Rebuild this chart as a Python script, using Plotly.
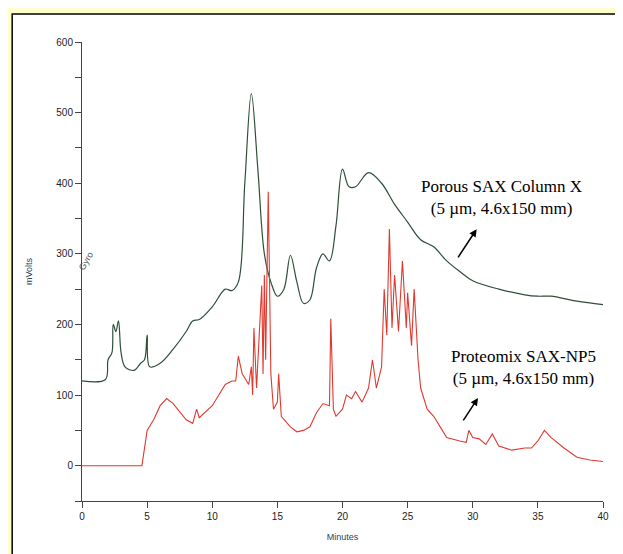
import plotly.graph_objects as go

# retention time (min) / signal (mV)
porous_t = [0, 1.8, 2.0, 2.3, 2.4, 2.6, 2.8, 3.0, 3.3, 4.0, 4.5, 4.8, 5.0, 5.2, 6.0, 7.0, 8.0, 8.5,
            9.0, 10.0, 11.0, 11.5, 12.0, 12.5, 13.0, 13.5, 14.0, 14.5, 15.0, 15.5, 16.0, 16.5, 17.0,
            17.5, 18.0, 18.5, 19.0, 19.5, 20.0, 20.5, 21.0, 22.0, 23.0, 24.0, 25.0, 26.0, 27.0, 28.0,
            29.0, 30.0, 32.0, 34.0, 35.0, 36.0, 38.0, 40.0]
porous_mv = [120, 122, 150, 160, 200, 190, 205, 160, 140, 135, 145, 150, 185, 140, 145, 165, 190, 205,
             207, 225, 250, 248, 260, 400, 527, 420, 300, 260, 240, 250, 298, 260, 230,
             235, 280, 300, 290, 340, 420, 395, 395, 415, 400, 370, 345, 320, 310, 290,
             275, 262, 250, 242, 240, 240, 233, 228]

np5_t = [0, 4.6, 5.0, 5.5, 6.0, 6.5, 7.0, 8.0, 8.5, 8.8, 9.0, 10.0, 11.0, 11.5, 11.8, 12.0, 12.3,
         12.8, 13.0, 13.1, 13.2, 13.4, 13.8, 13.9, 14.0, 14.1, 14.3, 14.5, 14.7, 15.0, 15.1, 15.3,
         16.0, 16.5, 17.0, 17.5, 18.0, 18.5, 19.0, 19.1, 19.3, 19.5, 20.0, 20.3, 20.7, 21.0, 21.5,
         22.0, 22.3, 22.6, 23.0, 23.2, 23.4, 23.6, 23.8, 24.0, 24.3, 24.6, 24.9, 25.0, 25.3, 25.5,
         25.8, 26.0, 26.5, 27.0, 27.5, 28.0, 29.0, 29.5, 29.7, 30.0, 30.5, 31.0, 31.5, 32.0, 33.0,
         34.0, 34.5, 35.0, 35.5, 36.0, 37.0, 38.0, 39.0, 40.0]
np5_mv = [0, 0, 50, 65, 85, 95, 88, 65, 60, 80, 68, 85, 115, 120, 120, 155, 130,
          115, 140, 100, 195, 110, 255, 130, 270, 150, 388, 130, 80, 90, 130, 70,
          55, 48, 50, 55, 75, 88, 85, 208, 80, 70, 80, 100, 95, 105, 90,
          110, 150, 110, 140, 250, 185, 335, 195, 270, 190, 290, 195, 245, 170, 250,
          150, 110, 80, 70, 55, 40, 35, 33, 50, 40, 38, 30, 45, 28, 22,
          25, 25, 35, 50, 40, 25, 12, 8, 6]

fig = go.Figure()
fig.add_trace(go.Scatter(x=porous_t, y=porous_mv, mode='lines', line=dict(color='#2f4f3a', width=1.2),
                         line_shape='spline', showlegend=False, cliponaxis=False))
fig.add_trace(go.Scatter(x=np5_t, y=np5_mv, mode='lines', line=dict(color='#e0392f', width=1.1),
                         showlegend=False, cliponaxis=False))

serif = dict(family='Liberation Serif', size=17, color='black')
fig.add_annotation(x=32.2, y=380, text='Porous SAX Column X<br>(5 µm, 4.6x150 mm)', showarrow=False,
                   font=serif, align='center')
fig.add_annotation(x=30.3, y=335, ax=28.8, ay=293, xref='x', yref='y', axref='x', ayref='y',
                   showarrow=True, arrowhead=2, arrowsize=1, arrowwidth=1.5, arrowcolor='black', text='')
fig.add_annotation(x=33.9, y=139, text='Proteomix SAX-NP5<br>(5 µm, 4.6x150 mm)', showarrow=False,
                   font=serif, align='center')
fig.add_annotation(x=30.4, y=96, ax=29.2, ay=62, xref='x', yref='y', axref='x', ayref='y',
                   showarrow=True, arrowhead=2, arrowsize=1, arrowwidth=1.5, arrowcolor='black', text='')
fig.add_annotation(x=0.3, y=290, text='Gyro', showarrow=False, textangle=-60,
                   font=dict(family='Liberation Sans', size=9, color='#555'))

# outer frame on yellow page
fig.add_shape(type='rect', xref='paper', yref='paper', x0=-0.134, x1=1.035, y0=-0.13, y1=1.061,
              line=dict(color='black', width=1.5), fillcolor='white', layer='below')

tickfont = dict(family='Liberation Sans', size=10, color='#222')
fig.update_xaxes(range=[0, 40], tickvals=[0, 5, 10, 15, 20, 25, 30, 35, 40], ticks='outside', ticklen=6,
                 showgrid=False, zeroline=False, showline=True, linecolor='#444', tickfont=tickfont,
                 automargin=False,
                 title=dict(text='Minutes', font=dict(family='Liberation Sans', size=9), standoff=12))
fig.update_yaxes(range=[-50, 600], tickvals=[-50, 0, 50, 100, 150, 200, 250, 300, 350, 400, 450, 500, 550, 600],
                 ticktext=['', '0', '', '100', '', '200', '', '300', '', '400', '', '500', '', '600'],
                 ticks='outside', ticklen=6, showgrid=False, zeroline=False, showline=True, linecolor='#444',
                 tickfont=tickfont, automargin=False,
                 title=dict(text='mVolts', font=dict(family='Liberation Sans', size=9), standoff=22))

# page body adds an 8px offset, so margins are shifted to land the axes where the reference has them
fig.update_layout(width=623, height=554, margin=dict(l=74, r=28, t=34, b=61),
                  paper_bgcolor='#ffffcc', plot_bgcolor='rgba(0,0,0,0)')
fig.write_html('out.html')
